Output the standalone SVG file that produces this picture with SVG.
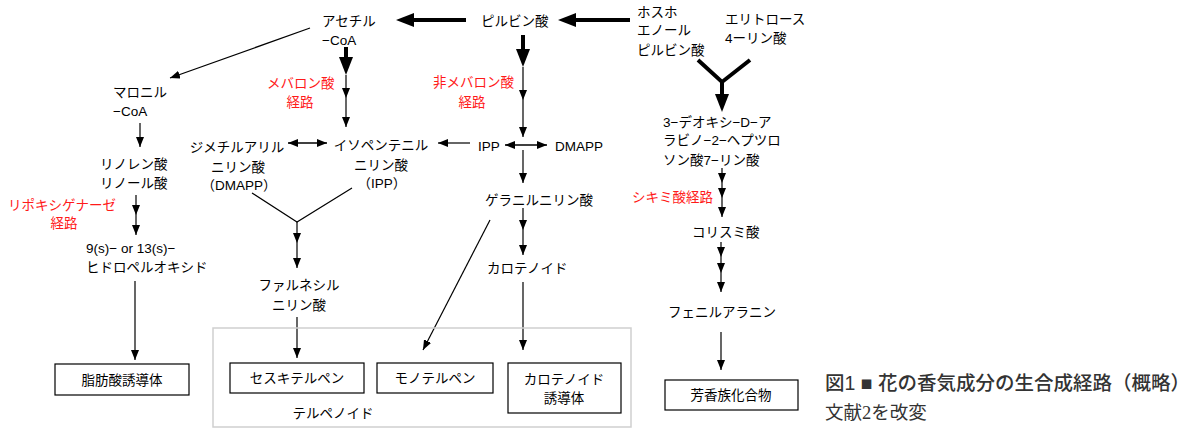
<svg xmlns="http://www.w3.org/2000/svg" width="1200" height="439" viewBox="0 0 1200 439">
<style>
text{font-family:"Liberation Sans","Noto Sans CJK JP",sans-serif;font-size:13.5px;fill:#000}
.red{fill:#ff1a1a}
.c{text-anchor:middle}
.box{fill:#fff;stroke:#000;stroke-width:1.2}
.grp{fill:none;stroke:#cfcfcf;stroke-width:1.5}
.thin{fill:none;stroke:#000;stroke-width:1.2;marker-end:url(#ah)}
.dbl{fill:none;stroke:#000;stroke-width:1.5;marker-end:url(#ah);marker-start:url(#ah)}
.plain{fill:none;stroke:#000;stroke-width:1.2}
.thick{fill:none;stroke:#000;stroke-width:4;marker-end:url(#ahb)}
.thickp{fill:none;stroke:#000;stroke-width:4}
.cap{font-size:19.5px;fill:#333;font-weight:500}
.cap2{font-family:"Liberation Serif","Noto Sans CJK JP",serif;font-size:18.5px;fill:#333}
</style>
<defs>
<marker id="ah" viewBox="0 0 10 8" refX="10" refY="4" markerWidth="10" markerHeight="8" markerUnits="userSpaceOnUse" orient="auto-start-reverse"><path d="M0,0 L10,4 L0,8 z" fill="#000"/></marker>
<marker id="ahb" viewBox="0 0 18 14" refX="1" refY="7" markerWidth="18" markerHeight="14" markerUnits="userSpaceOnUse" orient="auto"><path d="M0,0 L18,7 L0,14 z" fill="#000"/></marker>
</defs>
<rect width="1200" height="439" fill="#fff"/>

<g id="connectors">
<path class="thick" d="M466,20 L413,20"/>
<path class="thick" d="M630,20 L575,20"/>
<path class="thick" d="M346,47 L346,58"/>
<path class="thick" d="M523,35 L523,50"/>
<path class="thickp" d="M698,60 L722,82 L750,60"/>
<path class="thick" d="M722,82 L722,95"/>
<path class="thin" d="M346,75 L346,98"/>
<path class="thin" d="M346,98 L346,127"/>
<path class="thin" d="M523,67 L523,100"/>
<path class="thin" d="M523,100 L523,137"/>
<path class="thin" d="M310,28 L170,78"/>
<path class="thin" d="M140,123 L140,147"/>
<path class="thin" d="M136,195 L136,215"/>
<path class="thin" d="M136,215 L136,235"/>
<path class="thin" d="M135,281 L135,360"/>
<path class="dbl" d="M288,143 L327,143"/>
<path class="thin" d="M470,143 L438,143"/>
<path class="dbl" d="M505,145 L547,145"/>
<path class="thin" d="M523,150 L523,183"/>
<path class="thin" d="M523,208 L523,230"/>
<path class="thin" d="M523,230 L523,255"/>
<path class="thin" d="M523,282 L523,350"/>
<path class="thin" d="M490,220 L423,350"/>
<path class="plain" d="M252,193 L297,222 L352,188"/>
<path class="thin" d="M297,222 L297,243"/>
<path class="thin" d="M297,243 L297,268"/>
<path class="thin" d="M297,317 L297,358"/>
<path class="thin" d="M722,168 L722,183"/>
<path class="thin" d="M722,183 L722,198"/>
<path class="thin" d="M722,198 L722,217"/>
<path class="thin" d="M721,242 L721,257"/>
<path class="thin" d="M721,257 L721,273"/>
<path class="thin" d="M721,273 L721,292"/>
<path class="thin" d="M721,332 L721,370"/>
</g>

<g id="acetyl-coa"><text x="322" y="26">アセチル</text><text x="322" y="45">−CoA</text></g>
<g id="pyruvate"><text x="481" y="26">ピルビン酸</text></g>
<g id="pep"><text x="637" y="17">ホスホ</text><text x="637" y="35">エノール</text><text x="637" y="55">ピルビン酸</text></g>
<g id="erythrose"><text x="725" y="24">エリトロース</text><text x="725" y="43">4ーリン酸</text></g>
<g id="malonyl-coa"><text x="113" y="97">マロニル</text><text x="113" y="116">−CoA</text></g>
<g id="linolenic"><text x="100" y="169">リノレン酸</text><text x="100" y="188">リノール酸</text></g>
<g id="lox-label"><text class="red" x="8" y="210">リポキシゲナーゼ</text><text class="red c" x="64" y="228">経路</text></g>
<g id="hydroperoxide"><text x="86" y="253">9(s)− or 13(s)−</text><text x="86" y="272">ヒドロペルオキシド</text></g>
<g id="mva-label"><text class="red" x="267" y="88">メバロン酸</text><text class="red c" x="300" y="107">経路</text></g>
<g id="mep-label"><text class="red" x="433" y="87">非メバロン酸</text><text class="red c" x="472" y="107">経路</text></g>
<g id="dmapp"><text class="c" x="237" y="152">ジメチルアリル</text><text class="c" x="238" y="172">ニリン酸</text><text class="c" x="239" y="190">（DMAPP）</text></g>
<g id="ipp"><text class="c" x="381" y="150">イソペンテニル</text><text class="c" x="381" y="170">ニリン酸</text><text class="c" x="382" y="188">（IPP）</text></g>
<g id="ipp2"><text x="478" y="151">IPP</text></g>
<g id="dmapp2"><text x="555" y="151">DMAPP</text></g>
<g id="ggpp"><text x="485" y="205">ゲラニルニリン酸</text></g>
<g id="carotenoid"><text x="487" y="273">カロテノイド</text></g>
<g id="fpp"><text class="c" x="299" y="290">ファルネシル</text><text class="c" x="299" y="310">ニリン酸</text></g>
<g id="dahp"><text x="663" y="127">3−デオキシ−D−ア</text><text x="663" y="145">ラビノ−2−ヘプツロ</text><text x="663" y="165">ソン酸7−リン酸</text></g>
<g id="shikimate-label"><text class="red" x="632" y="202">シキミ酸経路</text></g>
<g id="chorismate"><text x="692" y="237">コリスミ酸</text></g>
<g id="phenylalanine"><text x="668" y="317">フェニルアラニン</text></g>

<g id="fatty-acid-derivatives"><rect class="box" x="55" y="364" width="134" height="31"/><text class="c" x="122" y="385">脂肪酸誘導体</text></g>
<g id="terpenoids"><rect class="grp" x="213" y="328" width="418" height="99"/><text class="c" x="333" y="418">テルペノイド</text></g>
<g id="sesquiterpene"><rect class="box" x="230" y="363" width="134" height="30"/><text class="c" x="297" y="383">セスキテルペン</text></g>
<g id="monoterpene"><rect class="box" x="377" y="363" width="116" height="30"/><text class="c" x="435" y="383">モノテルペン</text></g>
<g id="carotenoid-derivatives"><rect class="box" x="508" y="363" width="113" height="50"/><text class="c" x="564" y="384">カロテノイド</text><text class="c" x="564" y="403">誘導体</text></g>
<g id="aromatics"><rect class="box" x="665" y="380" width="133" height="30"/><text class="c" x="731" y="400">芳香族化合物</text></g>

<g id="caption"><text class="cap" x="825" y="390">図1 ■ 花の香気成分の生合成経路（概略）</text><text class="cap2" x="825" y="419">文献2を改変</text></g>
</svg>
